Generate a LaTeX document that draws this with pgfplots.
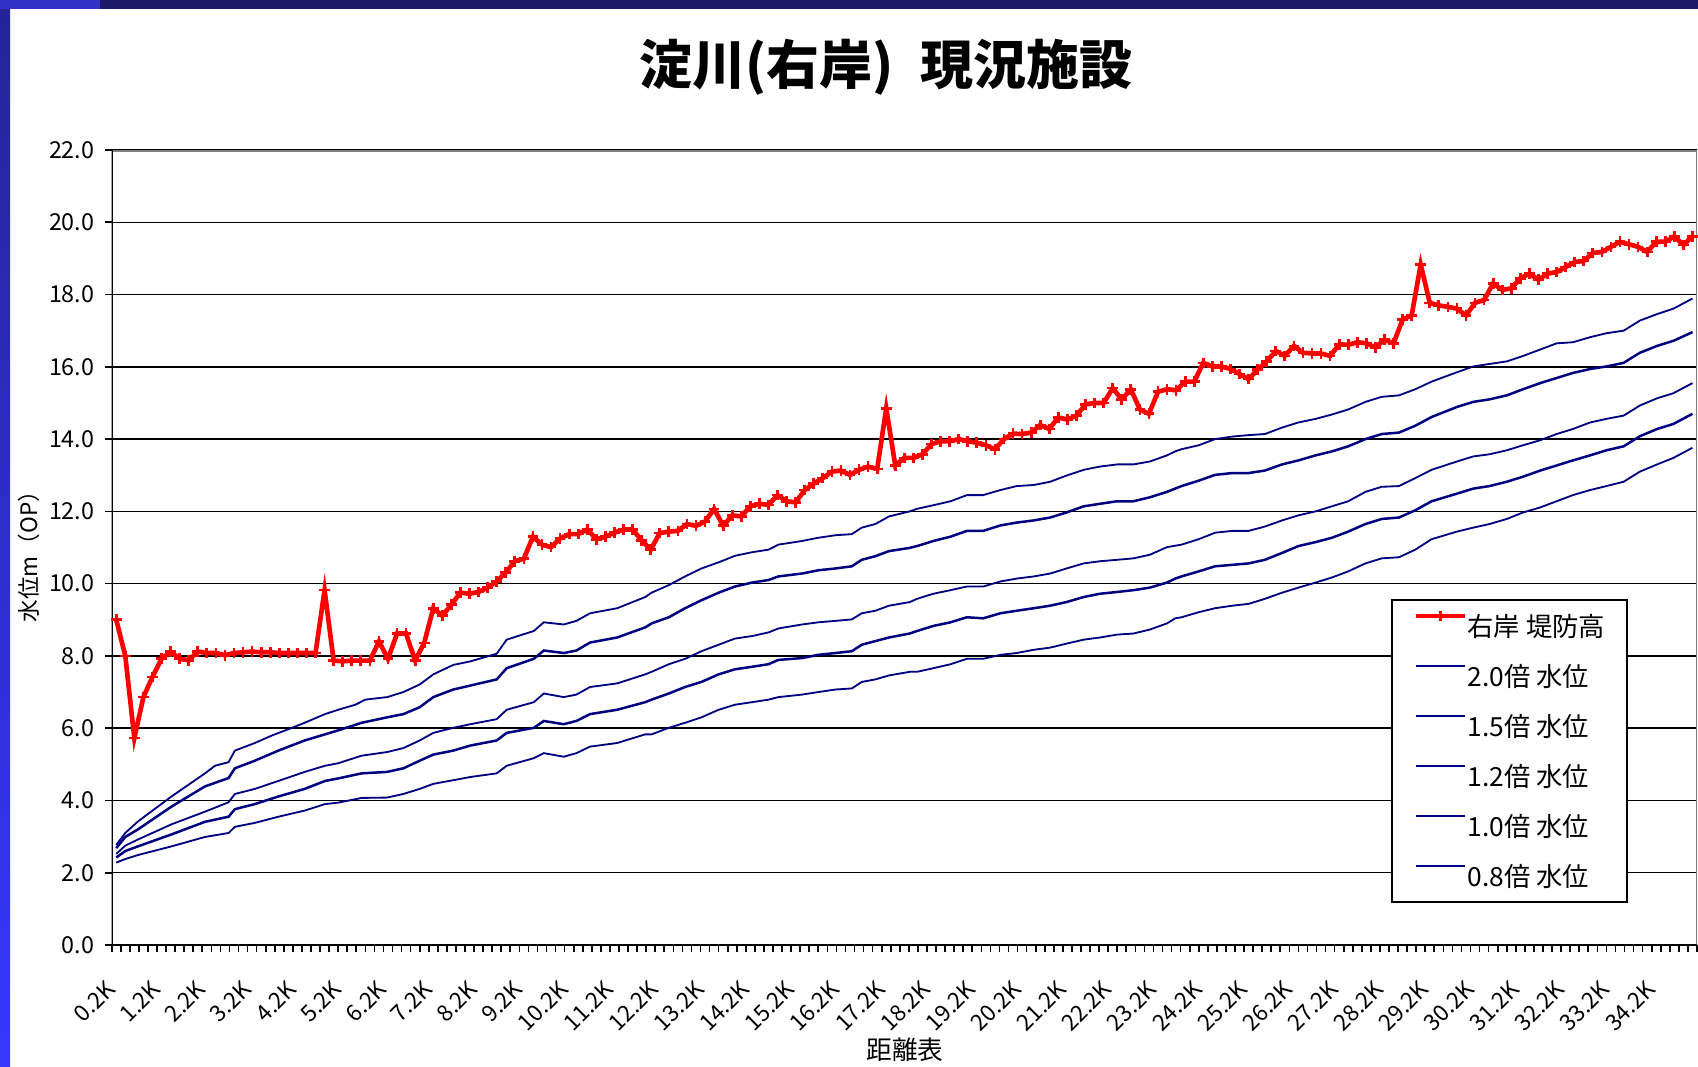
\documentclass[border=0pt]{standalone}
\usepackage{fontspec}
\setmainfont{Noto Sans CJK JP}
\newfontfamily\cjk{Noto Sans CJK JP}
\usepackage{pgfplots}
\pgfplotsset{compat=1.18}
\definecolor{navyline}{RGB}{0,0,128}
\definecolor{barnavy}{RGB}{26,26,102}
\definecolor{barblue}{RGB}{50,50,200}
\definecolor{stripA}{RGB}{36,36,150}
\definecolor{stripC}{RGB}{55,55,255}
\definecolor{framegray}{RGB}{128,128,128}
\begin{document}
\begin{tikzpicture}[x=0.3pt,y=0.3pt]
\useasboundingbox (0,0) rectangle (1698,1066);
\fill[white] (0,0) rectangle (1698,1066);
\shade[top color=stripA, middle color=black!90!blue, bottom color=stripC] (0,0) rectangle (10,1066);
\fill[barnavy] (0,1057) rectangle (1698,1066);
\fill[barblue] (0,1057) rectangle (100,1066);
\node[font=\cjk\bfseries\fontsize{15.9}{18}\selectfont] at (886,999) {淀川(右岸)\hspace{0.5em}現況施設};
\node[font=\cjk\fontsize{6.8}{8}\selectfont, rotate=90] at (29,515) {水位m（OP）};
\node[font=\cjk\fontsize{7.7}{9}\selectfont] at (905,16) {距離表};
\begin{axis}[
  at={(33.51pt,36.3pt)}, anchor=south west,
  scale only axis, width=475.59pt, height=238.5pt,
  xmin=-0.5, xmax=174.5, ymin=0, ymax=22,
  axis line style={draw=none},
  tick align=outside, tick pos=left,
  ytick={0,2,...,22},
  yticklabel style={font=\cjk\fontsize{7}{8}\selectfont, inner sep=0pt, anchor=east, xshift=-3pt,
    /pgf/number format/.cd, fixed, fixed zerofill, precision=1, assume math mode=true},
  major y tick style={black, line width=0.5pt},
  major tick length=2pt,
  ymajorgrids, grid style={black, line width=0.45pt},
  xtick={0,5,...,170},
  xticklabels={0.2K,1.2K,2.2K,3.2K,4.2K,5.2K,6.2K,7.2K,8.2K,9.2K,10.2K,11.2K,12.2K,13.2K,14.2K,15.2K,16.2K,17.2K,18.2K,19.2K,20.2K,21.2K,22.2K,23.2K,24.2K,25.2K,26.2K,27.2K,28.2K,29.2K,30.2K,31.2K,32.2K,33.2K,34.2K},
  xticklabel style={font=\cjk\fontsize{6.8}{8}\selectfont, inner sep=0pt, xshift=-1.5pt, yshift=-10pt, rotate=45, anchor=east},
  major x tick style={draw=none},
  minor xtick={-0.5,0.5,...,174.5},
  minor x tick style={black, line width=0.5pt},
  minor tick length=2pt,
  legend style={at={(0.807,0.435)}, anchor=north west, draw=black, line width=0.5pt, fill=white,
    inner xsep=6.6pt, inner ysep=0.3pt, row sep=0pt,
    font=\cjk\fontsize{7.9}{9}\selectfont,
    nodes={inner sep=0pt, text height=10.5pt, text depth=4.5pt},
    /tikz/every even column/.append style={column sep=1pt}},
  legend cell align=left,
  legend image code/.code={\draw[mark repeat=2, mark phase=2, #1] plot coordinates {(0pt,3pt) (7.35pt,3pt) (14.7pt,3pt)};},
]
\addplot[color=red, line width=1.4pt, mark=+, mark size=1.6pt, mark options={solid, line width=0.8pt}] coordinates {
(0,9.0) (1,8.0) (2,5.73) (3,6.86) (4,7.42) (5,7.92) (6,8.12) (7,7.92) (8,7.88) (9,8.12)
(10,8.08) (11,8.08) (12,8.02) (13,8.08) (14,8.1) (15,8.12) (16,8.1) (17,8.1) (18,8.08) (19,8.08)
(20,8.08) (21,8.08) (22,8.08) (23,9.82) (24,7.87) (25,7.85) (26,7.87) (27,7.87) (28,7.87) (29,8.4)
(30,7.92) (31,8.62) (32,8.62) (33,7.87) (34,8.36) (35,9.32) (36,9.11) (37,9.42) (38,9.75) (39,9.72)
(40,9.77) (41,9.89) (42,10.06) (43,10.31) (44,10.62) (45,10.69) (46,11.3) (47,11.08) (48,11.01) (49,11.25)
(50,11.37) (51,11.37) (52,11.5) (53,11.23) (54,11.3) (55,11.41) (56,11.5) (57,11.5) (58,11.2) (59,10.94)
(60,11.4) (61,11.44) (62,11.46) (63,11.65) (64,11.6) (65,11.72) (66,12.07) (67,11.6) (68,11.89) (69,11.86)
(70,12.14) (71,12.21) (72,12.18) (73,12.45) (74,12.28) (75,12.25) (76,12.59) (77,12.77) (78,12.92) (79,13.1)
(80,13.13) (81,13.01) (82,13.15) (83,13.24) (84,13.17) (85,14.85) (86,13.27) (87,13.48) (88,13.48) (89,13.58)
(90,13.86) (91,13.94) (92,13.94) (93,14.0) (94,13.94) (95,13.9) (96,13.83) (97,13.72) (98,14.0) (99,14.15)
(100,14.14) (101,14.18) (102,14.39) (103,14.28) (104,14.6) (105,14.54) (106,14.65) (107,14.96) (108,15.0) (109,15.0)
(110,15.41) (111,15.1) (112,15.38) (113,14.82) (114,14.7) (115,15.31) (116,15.38) (117,15.35) (118,15.59) (119,15.59)
(120,16.11) (121,16.01) (122,16.01) (123,15.94) (124,15.8) (125,15.66) (126,15.92) (127,16.15) (128,16.44) (129,16.3)
(130,16.58) (131,16.39) (132,16.37) (133,16.37) (134,16.3) (135,16.62) (136,16.61) (137,16.68) (138,16.65) (139,16.54)
(140,16.75) (141,16.65) (142,17.31) (143,17.42) (144,18.83) (145,17.77) (146,17.7) (147,17.66) (148,17.61) (149,17.42)
(150,17.77) (151,17.85) (152,18.31) (153,18.13) (154,18.17) (155,18.45) (156,18.58) (157,18.41) (158,18.58) (159,18.62)
(160,18.76) (161,18.9) (162,18.93) (163,19.15) (164,19.18) (165,19.32) (166,19.46) (167,19.39) (168,19.32) (169,19.18)
(170,19.46) (171,19.46) (172,19.61) (173,19.37) (174,19.61)
};
\addlegendentry{右岸 堤防高}
\addplot[color=navyline, line width=0.55pt, no marks] coordinates {
(0,2.77) (1,3.1) (2.4,3.42) (6.1,4.11) (9.8,4.75) (10.9,4.96) (12.4,5.06) (13.1,5.38) (15.3,5.59) (17.2,5.8)
(19.4,6.01) (20.8,6.15) (23.05,6.39) (24.5,6.51) (26.4,6.65) (27.5,6.79) (29.9,6.86) (31.7,7.0) (33.5,7.21) (35.0,7.49)
(37.2,7.75) (39.1,7.85) (42.0,8.06) (43.1,8.45) (46.1,8.69) (47.2,8.93) (49.4,8.87) (50.8,8.97) (52.3,9.18) (55.3,9.32)
(58.4,9.63) (59.1,9.75) (61,9.96) (62.8,10.2) (64.6,10.42) (66.5,10.59) (68.3,10.77) (70.2,10.87) (72,10.94) (73.1,11.08)
(75.7,11.18) (77.5,11.27) (79.4,11.34) (81.2,11.37) (82.3,11.55) (83.8,11.65) (85.3,11.86) (87.6,12.0) (88.4,12.07) (90.2,12.17)
(92.1,12.28) (93.9,12.45) (95.7,12.45) (97.6,12.59) (99.4,12.7) (101.3,12.73) (103.1,12.82) (104.9,12.99) (106.8,13.15) (108.6,13.24)
(110.5,13.3) (112.3,13.3) (114.1,13.38) (116,13.55) (116.9,13.66) (117.6,13.72) (119.5,13.83) (121.3,14.0) (123.2,14.07) (125,14.11)
(126.8,14.14) (128.7,14.32) (130.5,14.46) (132.4,14.56) (134.2,14.68) (136,14.82) (137.9,15.03) (139.7,15.17) (141.6,15.21) (143.4,15.38)
(145.2,15.59) (148,15.85) (149.8,16.01) (151.6,16.08) (153.5,16.15) (155.3,16.3) (157.2,16.48) (159,16.65) (160.8,16.68) (162.7,16.82)
(164.5,16.93) (166.4,17.0) (168.2,17.28) (170.1,17.46) (171.9,17.61) (174,17.89)
};
\addlegendentry{2.0倍 水位}
\addplot[color=navyline, line width=0.75pt, no marks] coordinates {
(0,2.68) (1,2.99) (2.4,3.2) (6.1,3.83) (9.8,4.39) (12.4,4.62) (13.1,4.89) (15.3,5.1) (17.9,5.38) (20.8,5.66)
(23.05,5.83) (24.5,5.94) (27.1,6.15) (29.9,6.3) (31.7,6.39) (33.5,6.58) (35.0,6.86) (37.2,7.07) (39.1,7.18) (42.0,7.35)
(43.1,7.66) (46.1,7.92) (47.2,8.15) (49.4,8.08) (50.8,8.15) (52.3,8.37) (55.3,8.51) (58.4,8.79) (59.1,8.9) (61,9.07)
(62.8,9.32) (64.6,9.54) (66.5,9.75) (68.3,9.92) (70.2,10.03) (72,10.1) (73.1,10.2) (75.7,10.28) (77.5,10.37) (79.4,10.42)
(81.2,10.48) (82.3,10.66) (83.8,10.76) (85.3,10.9) (87.6,10.99) (88.4,11.04) (90.2,11.18) (92.1,11.3) (93.9,11.46) (95.7,11.46)
(97.6,11.61) (99.4,11.69) (101.3,11.75) (103.1,11.83) (104.9,11.97) (106.8,12.14) (108.6,12.21) (110.5,12.28) (112.3,12.28) (114.1,12.39)
(116,12.54) (116.9,12.63) (117.6,12.7) (119.5,12.85) (121.3,13.01) (123.2,13.06) (125,13.06) (126.8,13.13) (128.7,13.3) (130.5,13.41)
(132.4,13.55) (134.2,13.66) (136,13.8) (137.9,14.0) (139.7,14.14) (141.6,14.18) (143.4,14.37) (145.2,14.61) (148,14.89) (149.8,15.03)
(151.6,15.1) (153.5,15.21) (155.3,15.38) (157.2,15.55) (159,15.69) (160.8,15.83) (162.7,15.94) (164.5,16.01) (166.4,16.11) (168.2,16.39)
(170.1,16.58) (171.9,16.72) (174,16.96)
};
\addlegendentry{1.5倍 水位}
\addplot[color=navyline, line width=0.55pt, no marks] coordinates {
(0,2.52) (1,2.75) (2.4,2.92) (6.1,3.34) (9.8,3.69) (12.4,3.95) (13.1,4.18) (15.3,4.32) (17.9,4.54) (20.8,4.79)
(23.05,4.96) (24.5,5.03) (27.1,5.24) (29.9,5.34) (31.7,5.45) (33.5,5.66) (35.0,5.87) (37.2,6.01) (39.1,6.11) (42.0,6.25)
(43.1,6.51) (46.1,6.72) (47.2,6.96) (49.4,6.86) (50.8,6.93) (52.3,7.14) (55.3,7.24) (58.4,7.49) (59.1,7.56) (61,7.77)
(62.8,7.92) (64.6,8.13) (66.5,8.31) (68.3,8.48) (70.2,8.55) (72,8.65) (73.1,8.76) (75.7,8.87) (77.5,8.93) (79.4,8.97)
(81.2,9.01) (82.3,9.18) (83.8,9.25) (85.3,9.39) (87.6,9.49) (88.4,9.58) (90.2,9.72) (92.1,9.82) (93.9,9.92) (95.7,9.92)
(97.6,10.06) (99.4,10.14) (101.3,10.2) (103.1,10.28) (104.9,10.42) (106.8,10.56) (108.6,10.62) (110.5,10.66) (112.3,10.7) (114.1,10.8)
(116,11.01) (117.6,11.08) (119.5,11.23) (121.3,11.41) (123.2,11.46) (125,11.46) (126.8,11.58) (128.7,11.75) (130.5,11.89) (132.4,12.0)
(134.2,12.14) (136,12.28) (137.9,12.54) (139.7,12.68) (141.6,12.7) (143.4,12.92) (145.2,13.15) (148,13.38) (149.8,13.52) (151.6,13.58)
(153.5,13.69) (155.3,13.83) (157.2,13.97) (159,14.14) (160.8,14.28) (162.7,14.46) (164.5,14.56) (166.4,14.65) (168.2,14.93) (170.1,15.13)
(171.9,15.27) (174,15.55)
};
\addlegendentry{1.2倍 水位}
\addplot[color=navyline, line width=0.75pt, no marks] coordinates {
(0,2.42) (1,2.6) (2.4,2.73) (6.1,3.06) (9.8,3.41) (12.4,3.55) (13.1,3.76) (15.3,3.9) (17.9,4.11) (20.8,4.32)
(23.05,4.54) (24.5,4.61) (27.1,4.75) (29.9,4.79) (31.7,4.89) (33.5,5.1) (35.0,5.27) (37.2,5.38) (39.1,5.52) (42.0,5.66)
(43.1,5.87) (46.1,6.01) (47.2,6.2) (49.4,6.11) (50.8,6.2) (52.3,6.39) (55.3,6.51) (58.4,6.72) (59.1,6.79) (61,6.96)
(62.8,7.14) (64.6,7.28) (66.5,7.49) (68.3,7.63) (70.2,7.7) (72,7.77) (73.1,7.89) (75.7,7.94) (77.5,8.03) (79.4,8.08)
(81.2,8.13) (82.3,8.31) (83.8,8.41) (85.3,8.51) (87.6,8.62) (88.4,8.69) (90.2,8.83) (92.1,8.93) (93.9,9.07) (95.7,9.04)
(97.6,9.18) (99.4,9.25) (101.3,9.32) (103.1,9.39) (104.9,9.49) (106.8,9.63) (108.6,9.72) (110.5,9.77) (112.3,9.82) (114.1,9.89)
(116,10.03) (116.9,10.14) (117.6,10.2) (119.5,10.34) (121.3,10.48) (123.2,10.52) (125,10.56) (126.8,10.66) (128.7,10.85) (130.5,11.04)
(132.4,11.15) (134.2,11.27) (136,11.44) (137.9,11.65) (139.7,11.79) (141.6,11.83) (143.4,12.03) (145.2,12.28) (148,12.49) (149.8,12.63)
(151.6,12.7) (153.5,12.82) (155.3,12.96) (157.2,13.13) (159,13.27) (160.8,13.41) (162.7,13.55) (164.5,13.69) (166.4,13.8) (168.2,14.08)
(170.1,14.28) (171.9,14.42) (174,14.7)
};
\addlegendentry{1.0倍 水位}
\addplot[color=navyline, line width=0.55pt, no marks] coordinates {
(0,2.28) (1,2.38) (2.4,2.49) (6.1,2.73) (9.8,2.99) (12.4,3.1) (13.1,3.27) (15.3,3.38) (17.9,3.55) (20.8,3.72)
(23.05,3.9) (24.5,3.94) (27.1,4.07) (29.9,4.08) (31.7,4.18) (33.5,4.32) (35.0,4.46) (37.2,4.56) (39.1,4.65) (42.0,4.75)
(43.1,4.96) (46.1,5.17) (47.2,5.31) (49.4,5.21) (50.8,5.31) (52.3,5.49) (55.3,5.59) (58.4,5.83) (59.1,5.83) (61,6.01)
(62.8,6.15) (64.6,6.3) (66.5,6.51) (68.3,6.65) (70.2,6.72) (72,6.79) (73.1,6.86) (75.7,6.93) (77.5,7.0) (79.4,7.07)
(81.2,7.1) (82.3,7.28) (83.8,7.35) (85.3,7.46) (87.6,7.56) (88.4,7.56) (90.2,7.66) (92.1,7.77) (93.9,7.92) (95.7,7.92)
(97.6,8.03) (99.4,8.08) (101.3,8.17) (103.1,8.23) (104.9,8.34) (106.8,8.45) (108.6,8.51) (110.5,8.59) (112.3,8.62) (114.1,8.73)
(116,8.9) (116.9,9.04) (117.6,9.07) (119.5,9.21) (121.3,9.32) (123.2,9.39) (125,9.44) (126.8,9.58) (128.7,9.75) (130.5,9.89)
(132.4,10.03) (134.2,10.17) (136,10.34) (137.9,10.56) (139.7,10.7) (141.6,10.73) (143.4,10.94) (145.2,11.23) (148,11.44) (149.8,11.55)
(151.6,11.65) (153.5,11.79) (155.3,11.97) (157.2,12.11) (159,12.28) (160.8,12.45) (162.7,12.59) (164.5,12.7) (166.4,12.82) (168.2,13.1)
(170.1,13.3) (171.9,13.48) (174,13.76)
};
\addlegendentry{0.8倍 水位}
\draw[framegray, line width=0.9pt] (rel axis cs:0,1) -- (rel axis cs:1,1) -- (rel axis cs:1,0);
\draw[black, line width=0.6pt] (rel axis cs:0,1) -- (rel axis cs:0,0) -- (rel axis cs:1,0);
\end{axis}
\end{tikzpicture}
\end{document}
